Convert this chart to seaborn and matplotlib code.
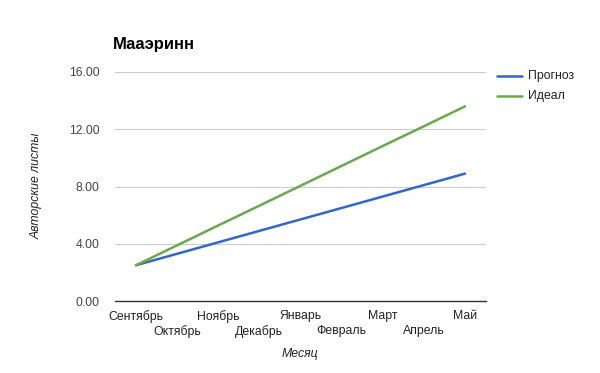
import matplotlib
matplotlib.use("Agg")
import matplotlib.pyplot as plt
import seaborn as sns
import pandas as pd

months = ["Сентябрь", "Октябрь", "Ноябрь", "Декабрь", "Январь",
          "Февраль", "Март", "Апрель", "Май"]
forecast = [2.5, 3.3, 4.1, 4.9, 5.7, 6.5, 7.3, 8.1, 8.9]
ideal = [2.5, 3.89, 5.28, 6.66, 8.05, 9.44, 10.83, 12.21, 13.6]
series_names = ["Прогноз", "Идеал"]
yticks = [0, 4, 8, 12, 16]

sns.set_theme(style="white")
plt.rcParams['font.family'] = ['Liberation Sans', 'DejaVu Sans']

df = pd.DataFrame({
    "idx": list(range(len(months))) * 2,
    "value": forecast + ideal,
    "series": [series_names[0]] * len(months) + [series_names[1]] * len(months),
})

fig = plt.figure(figsize=(6, 3.73), dpi=100)
ax = fig.add_axes([115/600, 1 - 301/373, (486-115)/600, (301-72)/373])

colors = ["#3366cc", "#6aa84f"]
sns.lineplot(data=df, x="idx", y="value", hue="series", hue_order=series_names,
             palette=colors, linewidth=1.8, ax=ax, legend=False, sort=False)

ax.set_xlim(-0.51, len(months) - 0.49)
ax.set_ylim(0, 16)
ax.set_yticks(yticks)
ax.set_yticklabels([f"{v:.2f}" for v in yticks], fontsize=8.8, color="#444444")
ax.set_xticks(range(len(months)))
ax.set_xticklabels(months, fontsize=8.8, color="#222222")
ax.tick_params(axis="x", length=0, pad=6.5)
ax.tick_params(axis="y", length=0, pad=11)
for i, tick in enumerate(ax.xaxis.get_major_ticks()):
    if i % 2 == 1:
        tick.set_pad(17.5)
ax.grid(axis="y", color="#cccccc", linewidth=0.8)
ax.grid(axis="x", visible=False)
for s in ["top", "right", "left"]:
    ax.spines[s].set_visible(False)
ax.spines["bottom"].set_color("#333333")
ax.spines["bottom"].set_linewidth(1.0)
ax.set_xlabel("")
ax.set_ylabel("")

fig.text(113/600, 1 - 45/373, "Мааэринн", fontsize=12, fontweight="bold",
         color="#000000", va="center", ha="left")
fig.text(37/600, 1 - 186/373, "Авторские листы", fontsize=8.8, style="italic",
         color="#222222", rotation=90, va="center", ha="center")
fig.text(300/600, 1 - 354/373, "Месяц", fontsize=8.8, style="italic",
         color="#222222", va="center", ha="center")

for k, (name, c) in enumerate(zip(series_names, colors)):
    y = 1 - (76 + k * 20) / 373
    fig.add_artist(plt.Line2D([497/600, 522/600], [y, y], color=c, linewidth=1.8))
    fig.text(528/600, y, name, fontsize=8.8, color="#222222", va="center", ha="left")

fig.savefig("out.png", dpi=100)
